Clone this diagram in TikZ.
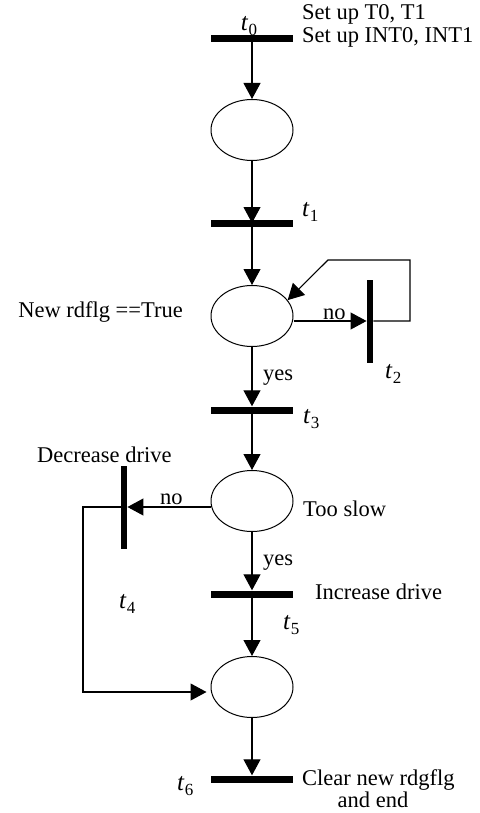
\documentclass[tikz,border=0pt]{standalone}
\usepackage{fontspec}
\setmainfont{Liberation Serif}
\usetikzlibrary{shapes.geometric,arrows.meta}
% transition label: italic t with a small subscript
\newcommand\tlab[1]{{\fontsize{25}{25}\selectfont\textit{t}}\kern0.3pt\raisebox{-5pt}{\fontsize{17}{17}\selectfont #1}}
\begin{document}
\begin{tikzpicture}[x=1pt,y=-1pt,
  place/.style={ellipse, draw, line width=1pt, minimum width=82pt, minimum height=61pt, inner sep=0pt},
  hbar/.style={rectangle, fill=black, minimum width=82pt, minimum height=7pt, inner sep=0pt},
  vbar/.style={rectangle, fill=black, minimum width=6.5pt, minimum height=83pt, inner sep=0pt},
  arc/.style={line width=1.1pt, -{Triangle[length=16pt,width=17pt]}},
  lbl/.style={font=\fontsize{22.5}{24}\selectfont, inner sep=0pt}]
\useasboundingbox (0,0) rectangle (479,813);

% places
\node[place] (e1) at (252,130) {};
\node[place] (e2) at (252,316) {};
\node[place] (e3) at (252,501) {};
\node[place] (e4) at (252,687) {};

% transitions
\node[hbar] (t0) at (252,39) {};
\node[hbar] (t1) at (252,223) {};
\node[vbar] (t2) at (370,321) {};
\node[hbar] (t3) at (252,410) {};
\node[vbar] (t4) at (124,507) {};
\node[hbar] (t5) at (252,594) {};
\node[hbar] (t6) at (252,779) {};

% bends of the loop and of the return path
\coordinate (c1) at (410,321);
\coordinate (c2) at (410,260);
\coordinate (c3) at (328,260);
\coordinate (d1) at (83,507);
\coordinate (d2) at (83,692);

% main flow
\draw[arc] (t0.center) -- (e1.north);
\draw[arc] (e1.south) -- (t1.center);
\draw[arc] (t1.center) -- (e2.north);
\draw[arc] (e2.south) -- (t3.north);
\draw[arc] (t3.center) -- (e3.north);
\draw[arc] (e3.south) -- (t5.north);
\draw[arc] (t5.center) -- (e4.north);
\draw[arc] (e4.south) -- (t6.north);

% polling loop through t2
\draw[arc] (t2.west -| e2.east) -- (t2.west);
\draw[arc] (t2.east) -- (c1) -- (c2) -- (c3) -- (e2.24);

% slow-down branch through t4
\draw[arc] (t4.east -| e3.west) -- (t4.east);
\draw[arc] (t4.west) -- (d1) -- (d2) -- ([xshift=-4pt]e4.west |- d2);

% labels
\node[lbl, anchor=base] (lt0) at (249,31) {\tlab{0}};
\node[lbl, anchor=base west] (s1) at (302,20) {Set up T0, T1};
\node[lbl, anchor=base west] (s2) at (302,43) {Set up INT0, INT1};
\node[lbl, anchor=base west] (lt1) at (302,216) {\tlab{1}};
\node[lbl, anchor=base east] (cond1) at (183,317) {New rdflg ==True};
\node[lbl, anchor=base west] (no1) at (323,319) {no};
\node[lbl, anchor=base west] (lt2) at (385,378) {\tlab{2}};
\node[lbl, anchor=base west] (yes1) at (263,380) {yes};
\node[lbl, anchor=base west] (lt3) at (303,423) {\tlab{3}};
\node[lbl, anchor=base west] (dec) at (37,462) {Decrease drive};
\node[lbl, anchor=base west] (no2) at (160,504) {no};
\node[lbl, anchor=base west] (cond2) at (303,516) {Too slow};
\node[lbl, anchor=base west] (yes2) at (263,565) {yes};
\node[lbl, anchor=base west] (inc) at (315,599) {Increase drive};
\node[lbl, anchor=base west] (lt4) at (119,608) {\tlab{4}};
\node[lbl, anchor=base west] (lt5) at (283,629) {\tlab{5}};
\node[lbl, anchor=base west] (lt6) at (177,790) {\tlab{6}};
\node[lbl, anchor=base west] (clr) at (302,785) {Clear new rdgflg};
\node[lbl, anchor=base] (fin) at (373,807) {and end};
\end{tikzpicture}
\end{document}
